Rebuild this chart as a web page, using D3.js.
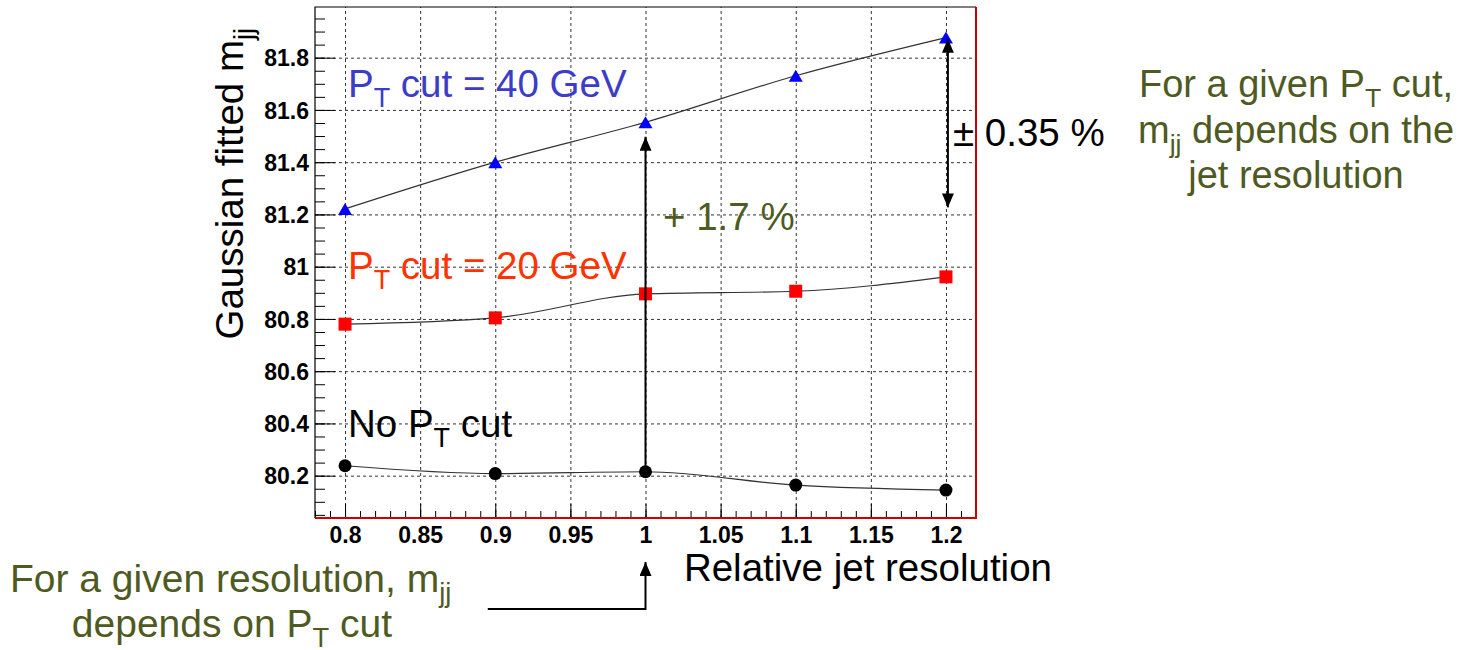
<!DOCTYPE html>
<html>
<head>
<meta charset="utf-8">
<script src="https://cdn.jsdelivr.net/npm/d3@7"></script>
<style>
  body { margin: 0; background: #fff; }
  svg { display: block; font-family: "Liberation Sans", Arial, sans-serif; }
  .grid line { stroke: #333; stroke-dasharray: 3,3; }
  .grid path { display: none; }
  .ticks path { display: none; }
  .ticks line { stroke: #000; }
  .ticks text { font-weight: bold; font-size: 23px; fill: #000; }
</style>
</head>
<body>
<svg id="chart" width="1462" height="650" viewBox="0 0 1462 650"></svg>
<script>
// values
const resolution = [0.8, 0.9, 1.0, 1.1, 1.2];
const pt40 = [81.221, 81.400, 81.553, 81.731, 81.877];
const pt20 = [80.780, 80.804, 80.896, 80.906, 80.961];
const noCut = [80.238, 80.208, 80.215, 80.164, 80.145];

const xTicks = [0.8, 0.85, 0.9, 0.95, 1.0, 1.05, 1.1, 1.15, 1.2];
const yTicks = [80.2, 80.4, 80.6, 80.8, 81.0, 81.2, 81.4, 81.6, 81.8];

let svg = d3.select("#chart");
let margins = {top: 7, left: 315, right: 486, bottom: 132};
let innerWidth = 1462 - margins.left - margins.right;
let innerHeight = 650 - margins.top - margins.bottom;

let x = d3.scaleLinear([0.78, 1.22], [margins.left, margins.left + innerWidth]);
let y = d3.scaleLinear([80.038, 81.994], [margins.top + innerHeight, margins.top]);
let fmt = d => String(+d.toFixed(2));

let olive = "#4f5a22";

svg.append("rect")
    .attr("x", margins.left).attr("y", margins.top)
    .attr("width", innerWidth).attr("height", innerHeight)
    .attr("fill", "white");

// grid
svg.append("g").attr("class", "grid")
    .attr("transform", `translate(${margins.left},0)`)
    .call(d3.axisLeft(y).tickValues(yTicks).tickFormat("").tickSize(-innerWidth))
    .selectAll("text").remove();
svg.append("g").attr("class", "grid")
    .attr("transform", `translate(0,${margins.top + innerHeight})`)
    .call(d3.axisBottom(x).tickValues(xTicks).tickFormat("").tickSize(-innerHeight))
    .selectAll("text").remove();

// ticks
let yMinor = d3.range(1601, 1640).map(v => v / 20);
let xMinor = d3.range(78, 123).map(v => v / 100);

svg.append("g").attr("class", "ticks")
    .attr("transform", `translate(${margins.left},0)`)
    .call(d3.axisLeft(y).tickValues(yMinor).tickFormat("").tickSize(-10))
    .selectAll("text").remove();
svg.append("g").attr("class", "ticks")
    .attr("transform", `translate(${margins.left},0)`)
    .call(d3.axisLeft(y).tickValues(yTicks).tickFormat(fmt).tickSize(-20).tickPadding(6))
    .selectAll("text").attr("dy", "0.36em");
svg.append("g").attr("class", "ticks")
    .attr("transform", `translate(0,${margins.top + innerHeight})`)
    .call(d3.axisBottom(x).tickValues(xMinor).tickFormat("").tickSize(-7))
    .selectAll("text").remove();
svg.append("g").attr("class", "ticks")
    .attr("transform", `translate(0,${margins.top + innerHeight})`)
    .call(d3.axisBottom(x).tickValues(xTicks).tickFormat(fmt).tickSize(-14).tickPadding(9))
    .selectAll("text").attr("dy", "0.71em");

// frame
let x0 = margins.left, x1 = margins.left + innerWidth;
let y0 = margins.top, y1 = margins.top + innerHeight;
svg.append("path").attr("d", `M${x0},${y1}V${y0}H${x1}`)
    .attr("fill", "none").attr("stroke", "#000").attr("stroke-width", 1.2);
svg.append("path").attr("d", `M${x0},${y1}H${x1}V${y0}`)
    .attr("fill", "none").attr("stroke", "#cc0000").attr("stroke-width", 2);

// series
let series = [
    {values: pt40, shape: "triangle", color: "#0000ff"},
    {values: pt20, shape: "square", color: "#ff0000"},
    {values: noCut, shape: "circle", color: "#000000"}
];
let line = d3.line().x(d => x(d[0])).y(d => y(d[1])).curve(d3.curveMonotoneX);

series.forEach(s => {
    let pts = resolution.map((r, i) => [r, s.values[i]]);
    svg.append("path").attr("d", line(pts))
        .attr("fill", "none").attr("stroke", "#333").attr("stroke-width", 1.2);
    let g = svg.append("g").selectAll("path").data(pts).enter();
    if (s.shape === "triangle") {
        g.append("path").attr("d", "M0,-6L7,6L-7,6Z")
            .attr("transform", d => `translate(${x(d[0])},${y(d[1])})`)
            .attr("fill", s.color);
    } else if (s.shape === "square") {
        g.append("rect").attr("x", d => x(d[0]) - 6.5).attr("y", d => y(d[1]) - 6.5)
            .attr("width", 13).attr("height", 13).attr("fill", s.color);
    } else {
        g.append("circle").attr("cx", d => x(d[0])).attr("cy", d => y(d[1]))
            .attr("r", 6.5).attr("fill", s.color);
    }
});

// arrows
let defs = svg.append("defs");
defs.append("marker").attr("id", "head")
    .attr("markerUnits", "userSpaceOnUse")
    .attr("viewBox", "0 0 14 12").attr("refX", 14).attr("refY", 6)
    .attr("markerWidth", 14).attr("markerHeight", 12)
    .attr("orient", "auto-start-reverse")
    .append("path").attr("d", "M0,0L14,6L0,12Z").attr("fill", "#000");

svg.append("line")
    .attr("x1", x(1.0)).attr("y1", y(noCut[2]))
    .attr("x2", x(1.0)).attr("y2", y(81.497))
    .attr("stroke", "#000").attr("stroke-width", 2)
    .attr("marker-end", "url(#head)");

svg.append("line")
    .attr("x1", x(1.2013)).attr("y1", y(81.872))
    .attr("x2", x(1.2013)).attr("y2", y(81.227))
    .attr("stroke", "#000").attr("stroke-width", 2)
    .attr("marker-start", "url(#head)")
    .attr("marker-end", "url(#head)");

svg.append("path")
    .attr("d", `M${x(0.895)},609H${x(1.0)}V562`)
    .attr("fill", "none").attr("stroke", "#000").attr("stroke-width", 2)
    .attr("marker-end", "url(#head)");

// text with subscripts
function label(px, py, parts, opts) {
    let t = svg.append("text")
        .attr("x", px).attr("y", py)
        .attr("font-size", opts.size || 38.5)
        .attr("fill", opts.color || "#000")
        .attr("text-anchor", opts.anchor || "start");
    if (opts.rotate) t.attr("transform", `rotate(${opts.rotate},${px},${py})`);
    let shift = 0;
    parts.forEach(p => {
        let sub = Array.isArray(p);
        let str = sub ? p[0] : p;
        let want = sub ? 10 : 0;
        t.append("tspan")
            .attr("dy", want - shift)
            .attr("font-size", sub ? "70%" : null)
            .text(str);
        shift = want;
    });
    return t;
}

label(348, 97, ["P", ["T"], " cut = 40 GeV"], {color: "#3c3cc8"});
label(348, 279, ["P", ["T"], " cut = 20 GeV"], {color: "#ff3300"});
label(348, 437, ["No P", ["T"], " cut"], {color: "#000"});
label(663, 230, ["+ 1.7 %"], {color: olive});
label(953, 146, ["± 0.35 %"], {color: "#000"});

label(1296, 97, ["For a given P", ["T"], " cut,"], {color: olive, anchor: "middle", size: 38});
label(1296, 143, ["m", ["jj"], " depends on the"], {color: olive, anchor: "middle", size: 38});
label(1296, 188, ["jet resolution"], {color: olive, anchor: "middle", size: 38});

label(10, 592, ["For a given resolution, m", ["jj"]], {color: olive, size: 39});
label(232, 637, ["depends on P", ["T"], " cut"], {color: olive, anchor: "middle", size: 39});

// axis titles
label(1052, 581, ["Relative jet resolution"], {color: "#000", anchor: "end"});
label(243, 28, ["Gaussian fitted m", ["jj"]], {color: "#000", anchor: "end", rotate: -90});
</script>
</body>
</html>
